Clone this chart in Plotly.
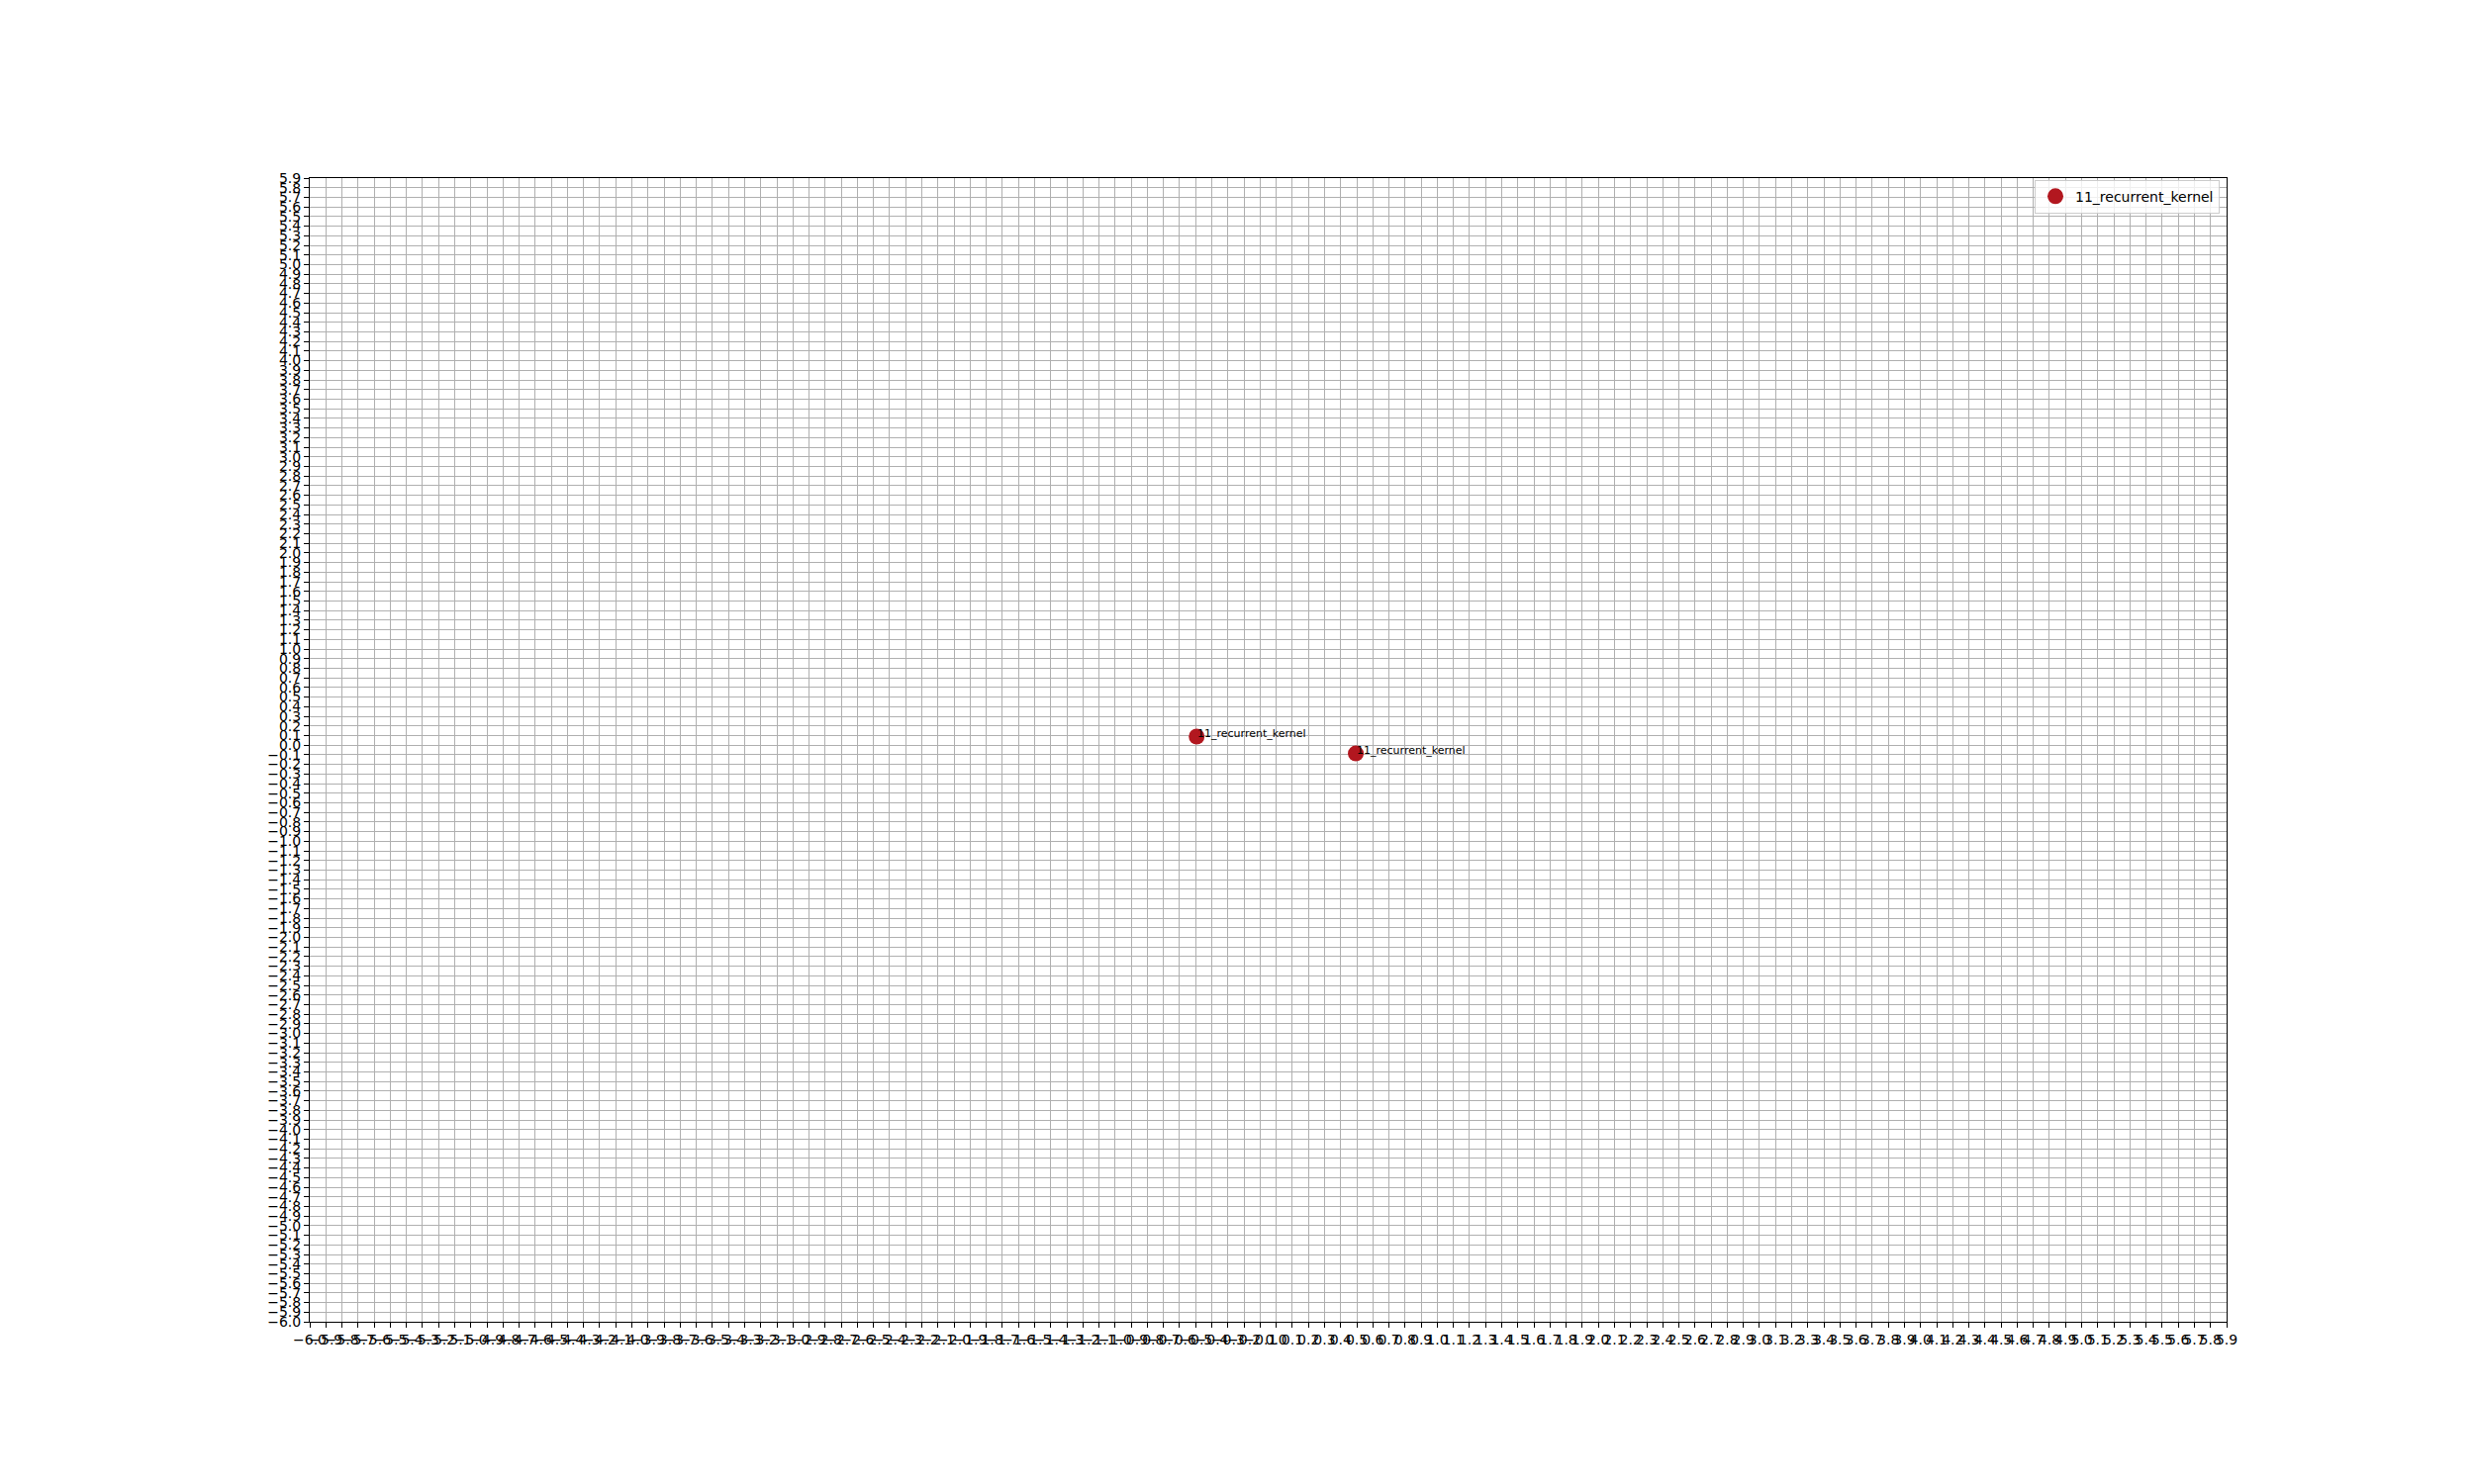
import plotly.graph_objects as go

# Data
series_name = "11_recurrent_kernel"
x_vals = [-0.494, 0.494]
y_vals = [0.089, -0.087]
point_labels = ["11_recurrent_kernel", "11_recurrent_kernel"]

x_ticks = [round(-6.0 + 0.1 * i, 1) for i in range(120)]
y_ticks = [round(-6.0 + 0.1 * i, 1) for i in range(120)]

marker_color = "#b2171f"
font_family = "DejaVu Sans"

fig = go.Figure()
fig.add_trace(go.Scatter(
    x=x_vals, y=y_vals, mode="markers", name=series_name,
    marker=dict(color=marker_color, size=16, line=dict(width=0)),
))

for xv, yv, lab in zip(x_vals, y_vals, point_labels):
    fig.add_annotation(x=xv, y=yv, text=lab, showarrow=False,
                       xanchor="left", yanchor="bottom", xshift=-1, yshift=-5,
                       font=dict(family=font_family, size=11, color="#000000"))

axis_common = dict(
    showgrid=True, gridcolor="#b0b0b0", gridwidth=1,
    zeroline=False, showline=True, linecolor="#000000", linewidth=1, mirror=True,
    ticks="outside", ticklen=5, tickwidth=1, tickcolor="#000000",
    tickfont=dict(family=font_family, size=14, color="#000000"),
    tickangle=0, tickformat=".1f",
)

fig.update_xaxes(range=[-6.0, 5.9], tickmode="array", tickvals=x_ticks,
                 ticktext=[f"{v:.1f}".replace("-", "\u2212") for v in x_ticks], **axis_common)
fig.update_yaxes(range=[-6.0, 5.9], tickmode="array", tickvals=y_ticks,
                 ticktext=[f"{v:.1f}".replace("-", "\u2212") for v in y_ticks], **axis_common)

fig.update_layout(
    width=2500, height=1500,
    margin=dict(l=305, r=258, t=172, b=172, pad=0),
    paper_bgcolor="white", plot_bgcolor="white",
    font=dict(family=font_family, size=14, color="#000000"),
    showlegend=True,
    legend=dict(x=0.9964, y=0.9985, xanchor="right", yanchor="top",
                bgcolor="rgba(255,255,255,0.8)", bordercolor="#cccccc", borderwidth=1,
                font=dict(family=font_family, size=14, color="#000000")),
)

fig.write_html("out.html")
